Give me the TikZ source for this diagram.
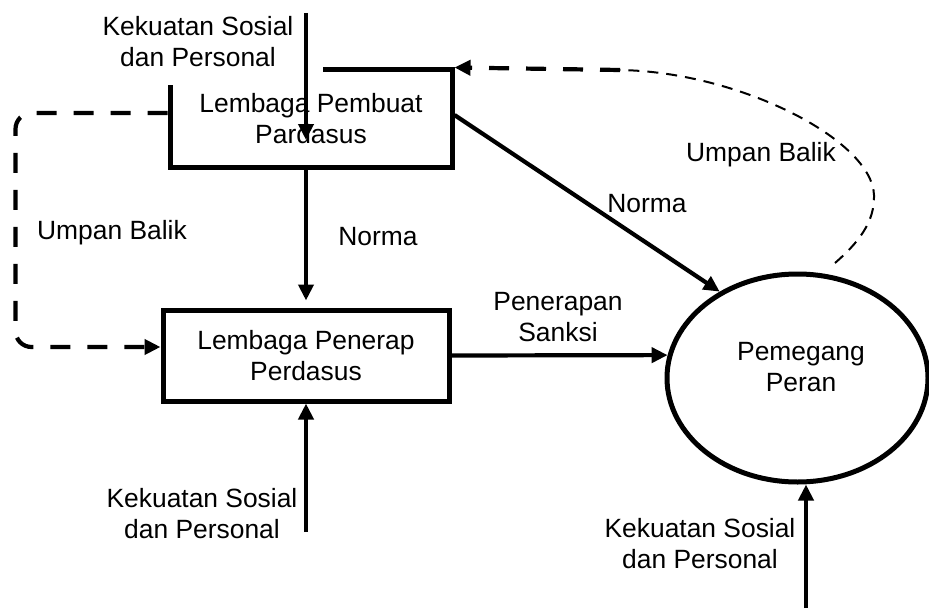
\documentclass[tikz,border=0pt]{standalone}
\usepackage{fontspec}
\setmainfont{Liberation Sans}
\usetikzlibrary{shapes,arrows.meta,positioning,calc}

\begin{document}
\begin{tikzpicture}[x=1pt, y=-1pt,
  font=\fontsize{26.4}{31}\selectfont,
  >={Triangle[length=16pt,width=15pt]},
  box/.style={draw, line width=5pt, inner sep=0pt, align=center},
  arr/.style={line width=4.2pt, ->},
  fbthick/.style={line width=4.2pt, dash pattern=on 20pt off 17pt},
  fbthin/.style={line width=2pt, dash pattern=on 11pt off 8pt},
  lbl/.style={align=center, inner sep=0pt}]
  \useasboundingbox (0,0) rectangle (929,610);
  % Boxes and ellipse
  \node[box, minimum width=282, minimum height=97] (pembuat) at (311,118.5) {Lembaga Pembuat\\Pardasus};
  \node[box, minimum width=286, minimum height=91] (penerap) at (306,355.5) {Lembaga Penerap\\Perdasus};
  \node[box, ellipse, minimum width=261, minimum height=208] (pemegang) at (797.5,378) {};
  \node[lbl] (pemegangTxt) at (801,367.5) {Pemegang\\Peran};
  % Outside forces
  \node[lbl, fill=white, minimum width=250, minimum height=86] (kekuatanA) at (198,42) {Kekuatan Sosial\\dan Personal};
  \node[lbl] (kekuatanB) at (202,514) {Kekuatan Sosial\\dan Personal};
  \node[lbl] (kekuatanC) at (700,544) {Kekuatan Sosial\\dan Personal};
  \coordinate (srcA) at (306,13);
  \coordinate (tipA) at (306,140);
  \coordinate (srcB) at (306,532);
  \coordinate (srcC) at (806,608);
  \draw[arr] (srcA) -- (tipA);
  \draw[arr] (srcB) -- (srcB |- penerap.south);
  \draw[arr] (srcC) -- (srcC |- pemegang.south);
  % Norma and sanksi
  \draw[arr, shorten >=7pt] (srcA |- pembuat.south) -- (srcA |- penerap.north);
  \draw[arr] ([yshift=3.5pt]pembuat.east) -- (pemegang.132);
  \draw[arr] (penerap.east) -- (pemegang.170);
  \node[lbl] (normaV) at (378,237) {Norma};
  \node[lbl] (normaD) at (647,204) {Norma};
  \node[lbl] (sanksi) at (558,317) {Penerapan\\Sanksi};
  % Feedback
  \draw[fbthick, rounded corners=16pt, ->] ([yshift=5.5pt]pembuat.west) -- ++(-152,0) |- ([yshift=8.5pt]penerap.west);
  \coordinate (ubA) at (835,263);
  \coordinate (ubB) at (620,70);
  \draw[fbthin] (ubA) .. controls (858,243) and (875,222) .. (874,195) .. controls (872,140) and (740,72) .. (ubB);
  \draw[fbthick, ->] (ubB) -- (pembuat.north east);
  \node[lbl] (umpanL) at (112,233) {Umpan Balik};
  \node[lbl] (umpanR) at (761,155) {Umpan Balik};
\end{tikzpicture}
\end{document}
